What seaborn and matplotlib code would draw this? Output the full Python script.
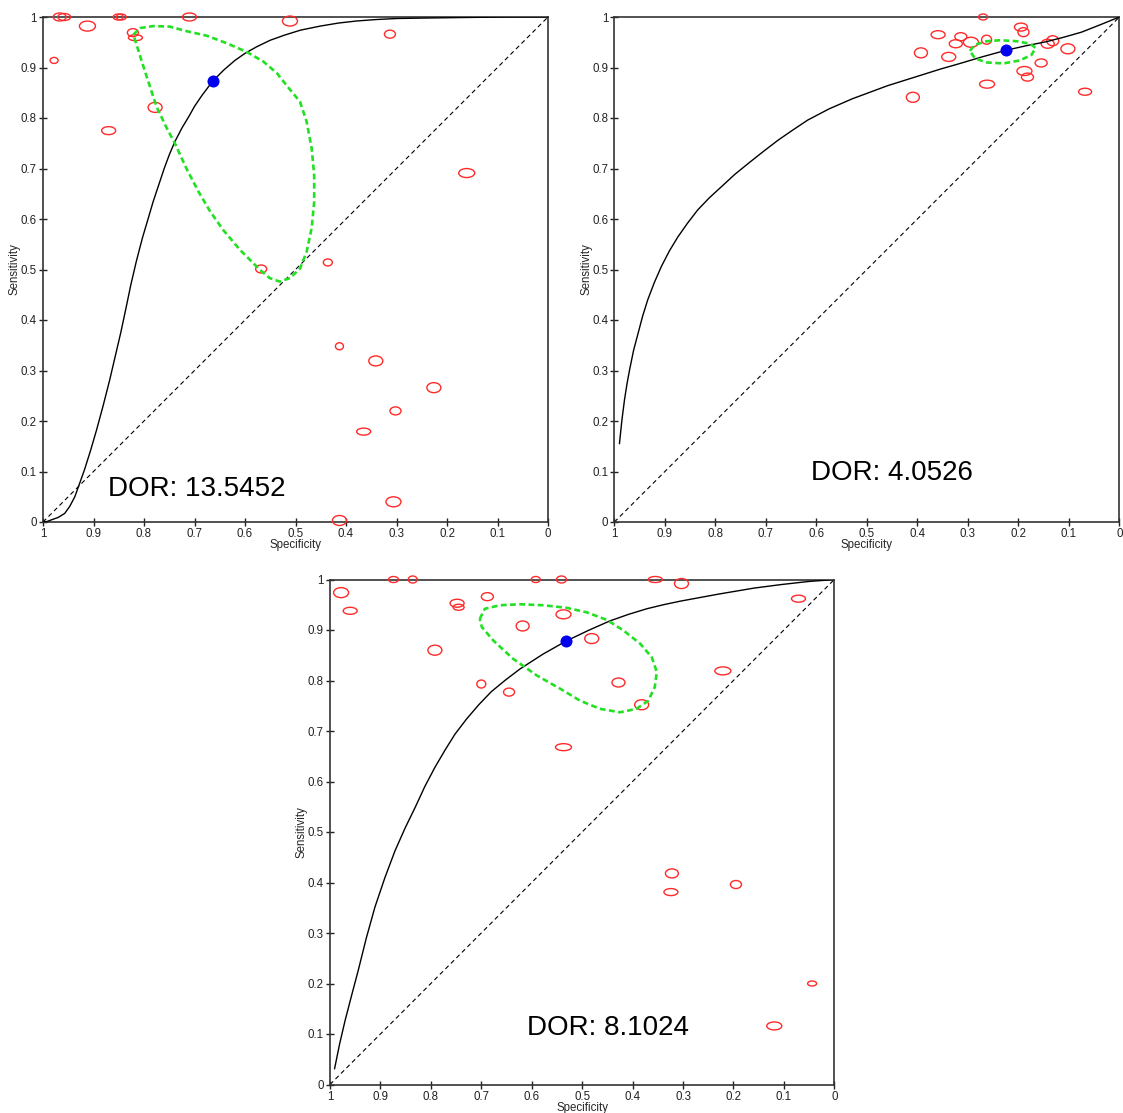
import numpy as np
import pandas as pd
import matplotlib
matplotlib.use("Agg")
import matplotlib.pyplot as plt
import seaborn as sns
from matplotlib.patches import Ellipse

sns.set_style("white")
plt.rcParams['font.family'] = ['Liberation Sans', 'DejaVu Sans']

# ---------------- Panel 1 ----------------
p1_spec = [0.967, 0.958, 0.912, 0.851, 0.845, 0.710, 0.511, 0.313, 0.822, 0.817, 0.978,
           0.778, 0.870, 0.161, 0.568, 0.436, 0.413, 0.341, 0.226, 0.302, 0.365, 0.306, 0.413]
p1_sens = [1.000, 1.000, 0.982, 1.000, 1.000, 1.000, 0.992, 0.966, 0.969, 0.959, 0.914,
           0.821, 0.775, 0.691, 0.501, 0.514, 0.348, 0.319, 0.266, 0.220, 0.179, 0.040, 0.003]
p1_nneg = [13, 13, 16, 10, 10, 14, 15, 11, 11, 14, 8, 14, 14, 16, 11, 9, 8, 14, 14, 11, 14, 15, 14]
p1_npos = [8, 7, 10, 6, 6, 8, 10, 8, 8, 6, 6, 10, 8, 9, 8, 7, 7, 10, 10, 8, 7, 10, 10]
p1_curve_spec = [1.0, 0.992, 0.984, 0.970, 0.957, 0.947, 0.937, 0.928, 0.918, 0.906, 0.894,
                 0.881, 0.868, 0.857, 0.846, 0.836, 0.826, 0.815, 0.803, 0.792, 0.782, 0.770,
                 0.760, 0.750, 0.739, 0.725, 0.710, 0.700, 0.685, 0.664, 0.642, 0.620, 0.600,
                 0.577, 0.550, 0.522, 0.490, 0.451, 0.415, 0.380, 0.340, 0.300, 0.240, 0.168,
                 0.080, 0.0]
p1_curve_sens = [0.0, 0.001, 0.004, 0.009, 0.017, 0.031, 0.050, 0.075, 0.103, 0.141, 0.182,
                 0.230, 0.281, 0.328, 0.375, 0.422, 0.470, 0.517, 0.563, 0.600, 0.634, 0.670,
                 0.700, 0.727, 0.753, 0.780, 0.805, 0.823, 0.845, 0.873, 0.895, 0.914, 0.928,
                 0.941, 0.954, 0.964, 0.974, 0.982, 0.988, 0.992, 0.995, 0.997, 0.998, 0.999,
                 1.0, 1.0]
p1_reg_spec = [0.821, 0.808, 0.782, 0.749, 0.716, 0.676, 0.636, 0.597, 0.564, 0.537, 0.518,
               0.491, 0.478, 0.468, 0.463, 0.463, 0.468, 0.478, 0.491, 0.511, 0.531, 0.551,
               0.570, 0.610, 0.643, 0.669, 0.692, 0.716, 0.739, 0.755, 0.775, 0.798, 0.821]
p1_reg_sens = [0.965, 0.978, 0.982, 0.981, 0.972, 0.963, 0.948, 0.931, 0.912, 0.889, 0.865,
               0.832, 0.793, 0.740, 0.687, 0.634, 0.582, 0.535, 0.502, 0.483, 0.476, 0.483,
               0.499, 0.539, 0.578, 0.615, 0.654, 0.700, 0.750, 0.780, 0.822, 0.892, 0.965]
p1_summary = [0.664, 0.873]
p1_dor = "DOR: 13.5452"

# ---------------- Panel 2 ----------------
p2_spec = [0.270, 0.195, 0.190, 0.359, 0.314, 0.324, 0.294, 0.263, 0.393, 0.338,
           0.142, 0.132, 0.102, 0.155, 0.188, 0.182, 0.262, 0.409, 0.068]
p2_sens = [1.000, 0.980, 0.970, 0.965, 0.961, 0.947, 0.950, 0.955, 0.929, 0.921,
           0.947, 0.953, 0.937, 0.909, 0.893, 0.881, 0.867, 0.841, 0.852]
p2_nneg = [9, 13, 11, 14, 12, 13, 15, 10, 13, 14, 13, 12, 14, 12, 15, 12, 15, 13, 13]
p2_npos = [6, 8, 9, 8, 8, 8, 10, 9, 10, 9, 9, 10, 10, 8, 9, 8, 8, 10, 7]
p2_curve_spec = [0.990, 0.985, 0.980, 0.975, 0.970, 0.962, 0.953, 0.944, 0.934, 0.921, 0.907,
                 0.891, 0.874, 0.855, 0.835, 0.812, 0.788, 0.762, 0.735, 0.706, 0.676, 0.647,
                 0.617, 0.575, 0.529, 0.494, 0.459, 0.424, 0.389, 0.354, 0.319, 0.272, 0.225,
                 0.185, 0.145, 0.110, 0.075, 0.037, 0.0]
p2_curve_sens = [0.155, 0.203, 0.242, 0.274, 0.301, 0.340, 0.374, 0.408, 0.440, 0.474, 0.506,
                 0.537, 0.565, 0.592, 0.618, 0.642, 0.664, 0.688, 0.710, 0.733, 0.756, 0.776,
                 0.796, 0.818, 0.838, 0.851, 0.864, 0.875, 0.886, 0.897, 0.907, 0.921, 0.934,
                 0.943, 0.951, 0.960, 0.970, 0.985, 1.0]
p2_reg_spec = [0.296, 0.286, 0.263, 0.236, 0.203, 0.177, 0.166, 0.174, 0.197, 0.230, 0.263, 0.286, 0.296]
p2_reg_sens = [0.933, 0.945, 0.952, 0.954, 0.952, 0.947, 0.939, 0.925, 0.914, 0.908, 0.910, 0.918, 0.933]
p2_summary = [0.225, 0.934]
p2_dor = "DOR: 4.0526"

# ---------------- Panel 3 ----------------
p3_spec = [0.874, 0.836, 0.592, 0.541, 0.355, 0.303, 0.978, 0.960, 0.748, 0.745, 0.688,
           0.537, 0.618, 0.481, 0.792, 0.700, 0.645, 0.428, 0.382, 0.221, 0.071, 0.537,
           0.322, 0.324, 0.195, 0.044, 0.119]
p3_sens = [1.000, 1.000, 1.000, 1.000, 1.000, 0.992, 0.974, 0.938, 0.953, 0.945, 0.966,
           0.931, 0.908, 0.883, 0.860, 0.793, 0.777, 0.796, 0.752, 0.819, 0.962, 0.668,
           0.418, 0.381, 0.396, 0.200, 0.116]
p3_nneg = [10, 9, 9, 10, 14, 14, 15, 14, 14, 11, 12, 15, 13, 14, 14, 9, 11, 13, 14, 16, 14, 16,
           13, 14, 11, 9, 15]
p3_npos = [6, 7, 6, 7, 6, 10, 10, 7, 8, 6, 8, 9, 10, 10, 10, 8, 8, 9, 10, 8, 7, 7, 9, 7, 8, 5, 8]
p3_curve_spec = [0.991, 0.981, 0.970, 0.957, 0.944, 0.928, 0.911, 0.891, 0.871, 0.851, 0.831,
                 0.812, 0.792, 0.772, 0.752, 0.729, 0.705, 0.680, 0.652, 0.623, 0.578, 0.532,
                 0.488, 0.445, 0.408, 0.372, 0.339, 0.306, 0.230, 0.159, 0.105, 0.052, 0.025, 0.0]
p3_curve_sens = [0.031, 0.080, 0.127, 0.177, 0.226, 0.290, 0.351, 0.410, 0.463, 0.508, 0.549,
                 0.590, 0.628, 0.662, 0.694, 0.724, 0.752, 0.778, 0.801, 0.823, 0.852, 0.878,
                 0.899, 0.918, 0.931, 0.942, 0.950, 0.957, 0.971, 0.983, 0.990, 0.996, 0.998, 1.0]
p3_reg_spec = [0.703, 0.693, 0.663, 0.623, 0.577, 0.531, 0.491, 0.451, 0.418, 0.385, 0.362,
               0.352, 0.356, 0.369, 0.392, 0.425, 0.465, 0.504, 0.544, 0.590, 0.637, 0.676,
               0.699, 0.703]
p3_reg_sens = [0.922, 0.942, 0.949, 0.951, 0.949, 0.944, 0.935, 0.920, 0.899, 0.873, 0.846,
               0.817, 0.787, 0.760, 0.744, 0.737, 0.744, 0.760, 0.784, 0.810, 0.843, 0.879,
               0.906, 0.922]
p3_summary = [0.532, 0.878]
p3_dor = "DOR: 8.1024"

ticks = [0, 0.1, 0.2, 0.3, 0.4, 0.5, 0.6, 0.7, 0.8, 0.9, 1]
tick_labels = ["0", "0.1", "0.2", "0.3", "0.4", "0.5", "0.6", "0.7", "0.8", "0.9", "1"]

W, H = 1123, 1113
fig = plt.figure(figsize=(W / 100, H / 100), dpi=100)
PX = 505.0  # pixels per unit in axes


def panel(rect, spec, sens, nneg, npos, cspec, csens, rspec, rsens, summ, dor, dor_pos, dor_ha):
    ax = fig.add_axes(rect)
    ax.set_xlim(1, 0)
    ax.set_ylim(0, 1)
    # diagonal
    diag = pd.DataFrame({"spec": [1.0, 0.0], "sens": [0.0, 1.0]})
    sns.lineplot(data=diag, x="spec", y="sens", ax=ax, color="black", lw=0.8,
                 linestyle=(0, (4, 3)), sort=False, estimator=None)
    # study ellipses
    for x, y, w, h in zip(spec, sens, nneg, npos):
        ax.add_patch(Ellipse((x, y), w / PX, h / PX, fill=False, ec="#ff2a2a",
                             lw=1.0, clip_on=False, zorder=3))
    # SROC curve
    cur = pd.DataFrame({"spec": cspec, "sens": csens})
    sns.lineplot(data=cur, x="spec", y="sens", ax=ax, color="black", lw=1.0,
                 sort=False, estimator=None, zorder=4)
    # confidence region
    reg = pd.DataFrame({"spec": rspec, "sens": rsens})
    sns.lineplot(data=reg, x="spec", y="sens", ax=ax, color="#22e022", lw=1.9,
                 linestyle=(0, (2.2, 1.3)), sort=False, estimator=None, zorder=5)
    # summary point
    sp = pd.DataFrame({"spec": [summ[0]], "sens": [summ[1]]})
    sns.scatterplot(data=sp, x="spec", y="sens", ax=ax, color="#0000ee", s=75,
                    edgecolor="#0000ee", linewidth=0, zorder=6)
    ax.set_xticks(ticks)
    ax.set_xticklabels(tick_labels)
    ax.set_yticks(ticks)
    ax.set_yticklabels(tick_labels)
    ax.tick_params(direction="inout", length=6, width=1.0, labelsize=8.3,
                   pad=1.5, colors="#222222", left=True, bottom=True)
    ax.set_xlabel("Specificity", fontsize=8.3)
    ax.set_ylabel("Sensitivity", fontsize=8.3)
    ax.xaxis.set_label_coords(0.5, -0.034)
    ax.yaxis.set_label_coords(-0.044, 0.5)
    for s in ax.spines.values():
        s.set_color("#333333")
        s.set_linewidth(1.2)
        s.set_visible(True)
    ax.text(dor_pos[0], dor_pos[1], dor, transform=ax.transAxes, fontsize=20,
            ha=dor_ha, va="center", color="black")
    return ax


panel([43 / W, 1 - 522 / H, 505 / W, 505 / H], p1_spec, p1_sens, p1_nneg, p1_npos,
      p1_curve_spec, p1_curve_sens, p1_reg_spec, p1_reg_sens, p1_summary, p1_dor,
      (0.129, 0.066), "left")
panel([614.4 / W, 1 - 522 / H, 505 / W, 505 / H], p2_spec, p2_sens, p2_nneg, p2_npos,
      p2_curve_spec, p2_curve_sens, p2_reg_spec, p2_reg_sens, p2_summary, p2_dor,
      (0.549, 0.097), "center")
panel([330 / W, 1 - 1084.5 / H, 504.3 / W, 505 / H], p3_spec, p3_sens, p3_nneg, p3_npos,
      p3_curve_spec, p3_curve_sens, p3_reg_spec, p3_reg_sens, p3_summary, p3_dor,
      (0.552, 0.111), "center")

fig.savefig("out.png", dpi=100)
